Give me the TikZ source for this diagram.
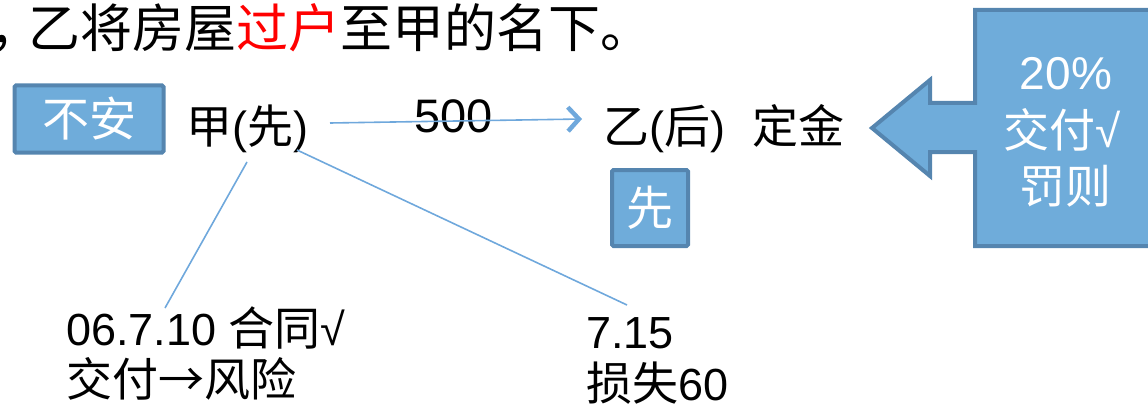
\documentclass[tikz,border=0pt]{standalone}
\usepackage{fontspec}
\setmainfont{Liberation Sans}
\newfontfamily\cjk{Noto Sans CJK SC}
\usetikzlibrary{arrows.meta}
\definecolor{fillblue}{HTML}{6FACDA}
\definecolor{edgeblue}{HTML}{5585AF}
\definecolor{lineblue}{HTML}{6FA8DC}
\begin{document}
\begin{tikzpicture}[x=1pt,y=-1pt,
  txt/.style={inner sep=0pt, anchor=base west, font=\fontsize{45}{54}\selectfont},
  boxed/.style={draw=edgeblue, line width=4pt, fill=fillblue, rounded corners=1.5pt, text=white, inner sep=0pt, font=\cjk\fontsize{47}{54}\selectfont},
  conn/.style={draw=lineblue, line width=1.6pt},
  callout/.style={draw=edgeblue, line width=4pt, fill=fillblue, line join=miter},
  ctxt/.style={inner sep=0pt, anchor=base, text=white, font=\fontsize{46}{50}\selectfont}]
\useasboundingbox (0,0) rectangle (1148,409);
\clip (0,0) rectangle (1148,409);
% top line
\node[txt, font=\cjk\fontsize{52}{60}\selectfont] (top) at (-11,48) {，\kern-0.25em 乙将房屋\textcolor{red}{过户}至甲的名下。};
% left box
\node[boxed, minimum width=149pt, minimum height=67pt] (buan) at (89,119) {不安};
\node[txt] (jia) at (186,143) {{\cjk\fontsize{46}{54}\selectfont 甲}({\cjk\fontsize{46}{54}\selectfont 先})};
\node[txt, font=\fontsize{47}{54}\selectfont] (n500) at (414,132) {500};
\node[txt] (yi) at (603,143) {{\cjk\fontsize{46}{54}\selectfont 乙}({\cjk\fontsize{46}{54}\selectfont 后})\hspace{0.6em}{\cjk\fontsize{46}{54}\selectfont 定金}};
\node[boxed, minimum width=76pt, minimum height=76pt] (xian) at (650,208) {先};
% arrow 500
\coordinate (a1) at (330,123);
\coordinate (a2) at (582,119);
\draw[conn, -{Straight Barb[length=11pt,width=24pt,line width=4.5pt]}] (a1) -- (a2);
% callout
\draw[callout] (1160,10) -- (975,10) -- (975,103) -- (930,103) -- (930,80) -- (872,128) -- (930,176) -- (930,152) -- (975,152) -- (975,246) -- (1160,246);
\node[ctxt] (c1) at (1066,90) {20\%};
\node[ctxt] (c2) at (1062,147) {{\cjk 交付}√};
\node[ctxt, font=\cjk\fontsize{46}{50}\selectfont] (c3) at (1065,203) {罚则};
% bottom texts
\node[txt] (d1) at (66,345) {06.7.10 {\cjk\fontsize{46}{54}\selectfont 合同}√};
\node[txt, font=\cjk\fontsize{46}{54}\selectfont] (d2) at (66,396) {交付→风险};
\node[txt] (e1) at (586,348) {7.15};
\node[txt] (e2) at (586,400) {{\cjk\fontsize{46}{54}\selectfont 损失}60};
% connectors
\coordinate (l1a) at (247,162);
\coordinate (l1b) at (165,308);
\coordinate (l2a) at (297,150);
\coordinate (l2b) at (627,305);
\draw[conn] (l1a) -- (l1b);
\draw[conn] (l2a) -- (l2b);
\end{tikzpicture}
\end{document}
